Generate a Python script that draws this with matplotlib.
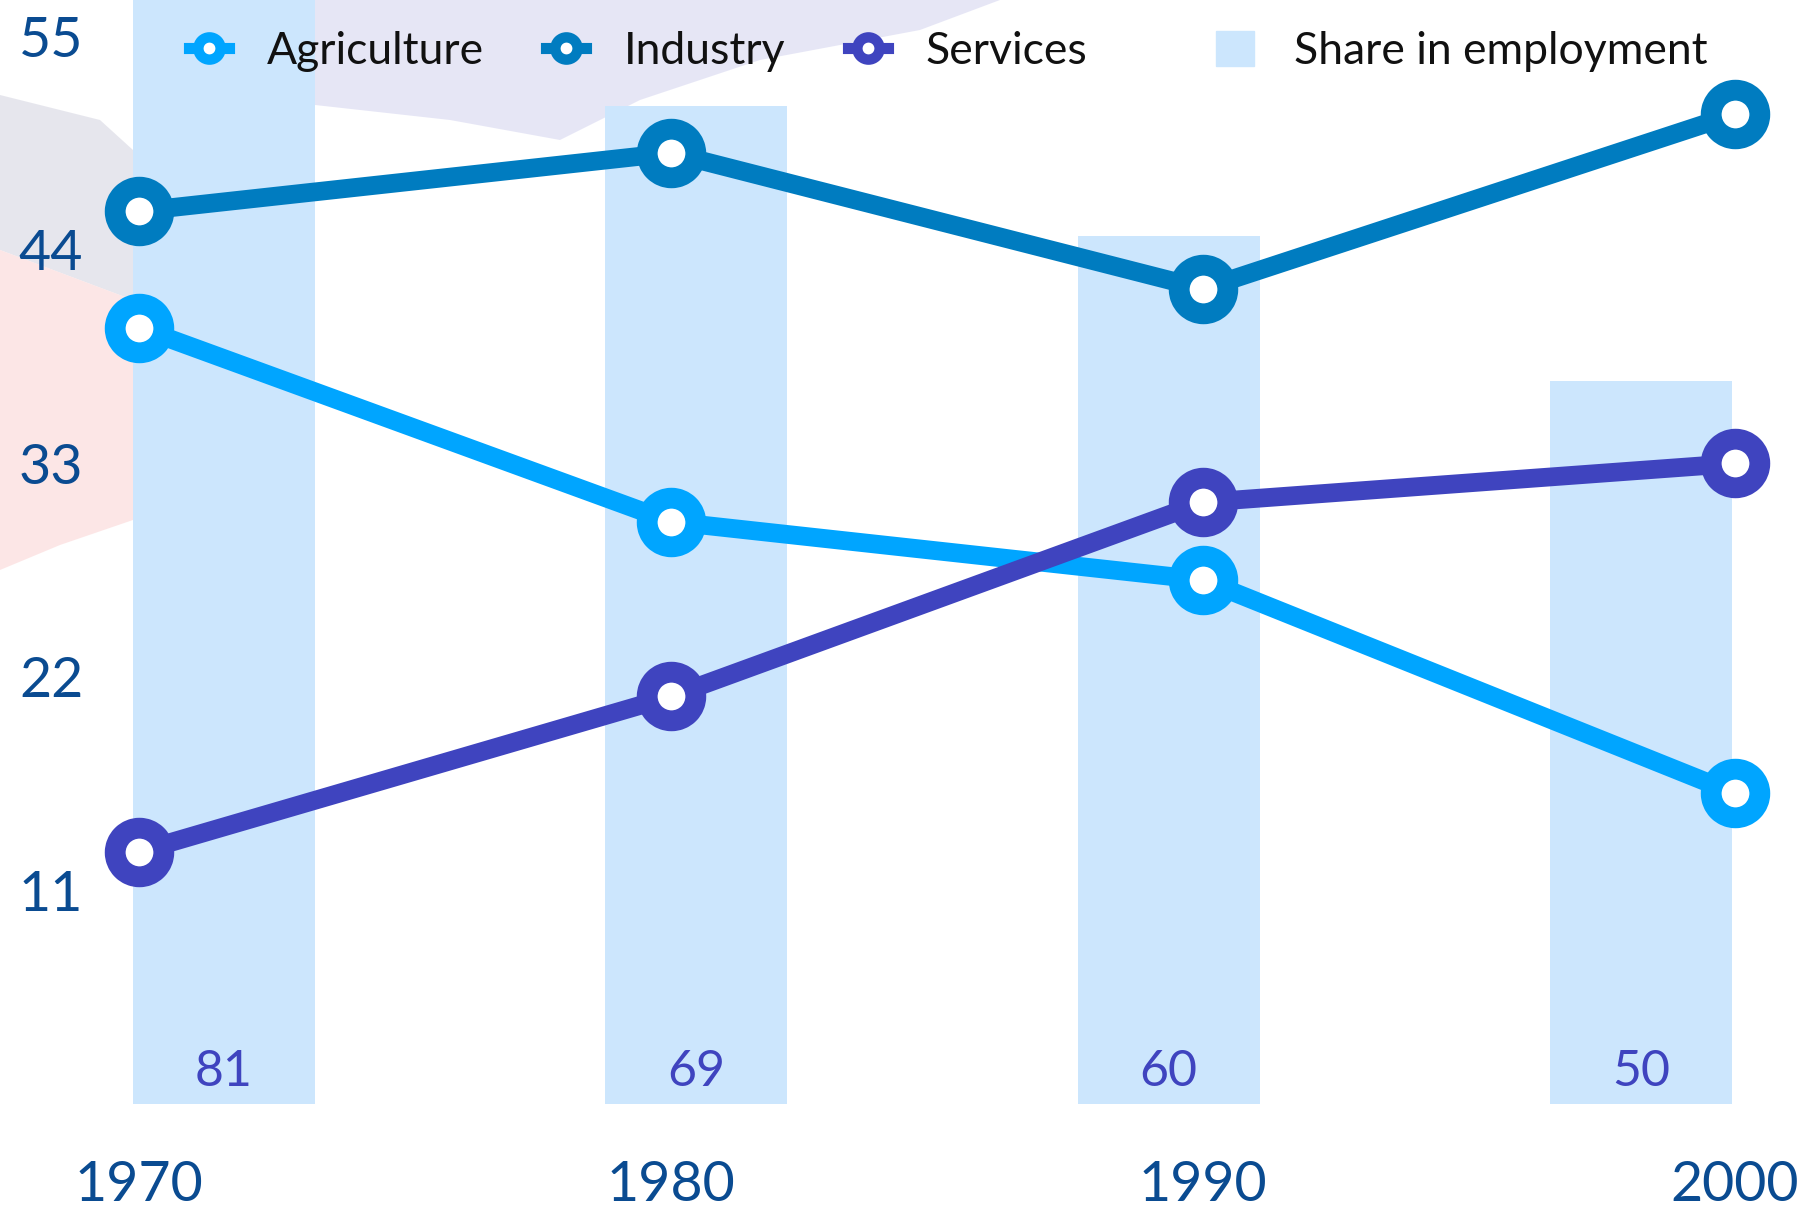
import matplotlib
matplotlib.use('Agg')
import matplotlib.pyplot as plt
from matplotlib.lines import Line2D
from matplotlib.patches import Patch, Polygon

# data
years = ['1970', '1980', '1990', '2000']
agriculture = [40, 30, 27, 16]
industry = [46, 49, 42, 51]
services = [13, 21, 31, 33]
employment_share = [81, 69, 60, 50]
y_ticks = [11, 22, 33, 44, 55]

C_AGRI = '#00a5ff'
C_IND = '#007cc0'
C_SERV = '#3f44bf'
C_BAR = '#cce6fd'
C_TICK = '#0a4b91'

plt.rcParams['font.family'] = ['Lato', 'DejaVu Sans']

W, H = 1817, 1220
DPI = 100
fig = plt.figure(figsize=(W / DPI, H / DPI), dpi=DPI)
fig.patch.set_facecolor('white')


def px(x, y):
    """figure pixel (from top-left) -> figure fraction"""
    return (x / W, 1 - y / H)


# faint watermark in the background
wm = [
    ([(315, 0), (1000, 0), (920, 30), (760, 60), (640, 100), (560, 140), (450, 120), (315, 105)], '#dcdcf2'),
    ([(0, 95), (100, 120), (133, 150), (133, 300), (0, 250)], '#dcdce6'),
    ([(0, 250), (133, 300), (133, 520), (60, 545), (0, 570)], '#fcdcdc'),
]
for pts, col in wm:
    fig.add_artist(Polygon([px(*p) for p in pts], closed=True, transform=fig.transFigure,
                           facecolor=col, edgecolor='none', alpha=0.7, zorder=-1))

# axes cover the full width, y=0 sits 116 px above the bottom
rect = [0, 116 / H, 1, 1104 / H]
ax_b = fig.add_axes(rect)
ax = fig.add_axes(rect)
for a in (ax_b, ax):
    a.set_facecolor('none')
    for s in a.spines.values():
        s.set_visible(False)

# bars: own category scale
xb = list(range(len(years)))
bar_first, bar_step = 224, 472.3
ax_b.set_xlim(-bar_first / bar_step, (W - bar_first) / bar_step)
ax_b.set_ylim(0, 1104 / 14.47)
ax_b.bar(xb, employment_share, width=182 / bar_step, color=C_BAR, zorder=1)
for i, v in enumerate(employment_share):
    ax_b.annotate(str(v), (i, 0), xytext=(0, 23), textcoords='offset points',
                  ha='center', va='center', fontsize=36, color=C_SERV)
ax_b.set_xticks([])
ax_b.set_yticks([])

# lines
xl = list(range(len(years)))
line_first, line_step = 139, 532
ax.set_xlim(-line_first / line_step, (W - line_first) / line_step)
ax.set_ylim(0, 1104 / 19.41)
line_kw = dict(lw=13.5, marker='o', ms=35, mew=15, mfc='white', solid_capstyle='round')
ax.plot(xl, agriculture, color=C_AGRI, **line_kw)
ax.plot(xl, services, color=C_SERV, **line_kw)
ax.plot(xl, industry, color=C_IND, **line_kw)

ax.set_xticks(xl)
ax.set_xticklabels(years)
ax.set_yticks(y_ticks)
ax.set_yticklabels([str(t) for t in y_ticks])
ax.tick_params(axis='x', length=0, pad=40, labelsize=40, labelcolor=C_TICK)
ax.tick_params(axis='y', length=0, pad=-60, labelsize=40, labelcolor=C_TICK)

# legend
fs = 32
fs_px = fs / 72 * DPI
leg_y = 1 - 51 / H
leg_kw = dict(lw=8, marker='o', ms=16, mew=7.5, mfc='white')
handles = [
    Line2D([0], [0], color=C_AGRI, label='Agriculture', **leg_kw),
    Line2D([0], [0], color=C_IND, label='Industry', **leg_kw),
    Line2D([0], [0], color=C_SERV, label='Services', **leg_kw),
]
leg1 = ax.legend(handles=handles, ncol=3, loc='center left',
                 bbox_to_anchor=(189 / W, leg_y), bbox_transform=fig.transFigure,
                 frameon=False, fontsize=fs, borderpad=0, borderaxespad=0,
                 handlelength=40 / fs_px, handletextpad=38 / fs_px, columnspacing=62 / fs_px)
for t in leg1.get_texts():
    t.set_color('#111111')
ax.add_artist(leg1)

leg2 = ax.legend(handles=[Patch(color=C_BAR, label='Share in employment')], loc='center left',
                 bbox_to_anchor=(1216 / W, leg_y), bbox_transform=fig.transFigure,
                 frameon=False, fontsize=fs, borderpad=0, borderaxespad=0,
                 handlelength=38 / fs_px, handleheight=37 / fs_px, handletextpad=40 / fs_px)
for t in leg2.get_texts():
    t.set_color('#111111')

fig.savefig('out.png', dpi=DPI)
plt.close(fig)
